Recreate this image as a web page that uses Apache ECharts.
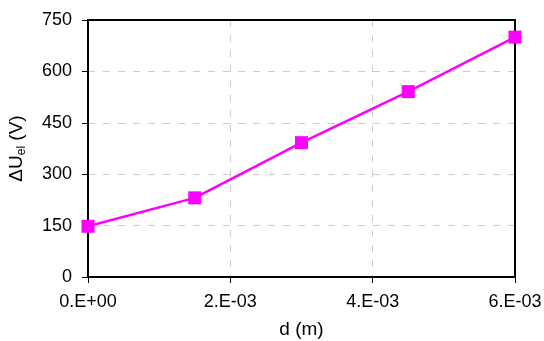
<!DOCTYPE html>
<html><head><meta charset="utf-8">
<script src="https://cdn.jsdelivr.net/npm/echarts@6/dist/echarts.min.js"></script>
<style>html,body{margin:0;padding:0;background:#fff}#c{width:544px;height:341px}</style>
</head><body><div id="c"></div>
<script>
const dValues = [0, 0.0015, 0.003, 0.0045, 0.006];
const dUValues = [148, 231, 392, 541, 700];
const xTicks = ['0.E+00', '2.E-03', '4.E-03', '6.E-03'];
const yTicks = [0, 150, 300, 450, 600, 750];

const chart = echarts.init(document.getElementById('c'));
const font = 'Liberation Sans, Arial, sans-serif';
const split = {show: true, lineStyle: {color: '#cccccc', type: [7, 8], width: 1}};
chart.setOption({
  animation: false,
  grid: {left: 88, right: 29, top: 20, bottom: 64, containLabel: false, outerBoundsMode: 'none'},
  xAxis: [{
    type: 'value', min: 0, max: 0.006, interval: 0.002,
    name: 'd (m)', nameLocation: 'middle', nameGap: 43,
    nameTextStyle: {fontFamily: font, fontSize: 19, color: '#000'},
    axisLine: {onZero: false, lineStyle: {color: '#000', width: 2}},
    axisTick: {show: true, length: 6, lineStyle: {color: '#000'}},
    axisLabel: {fontFamily: font, fontSize: 18, color: '#000', margin: 16,
      formatter: v => xTicks[Math.round(v / 0.002)]},
    splitLine: split
  }, {
    type: 'value', min: 0, max: 0.006, interval: 0.002, position: 'top',
    axisLine: {show: true, onZero: false, lineStyle: {color: '#000', width: 2}},
    axisTick: {show: false}, axisLabel: {show: false}, splitLine: {show: false}
  }],
  yAxis: [{
    type: 'value', min: 0, max: 750, interval: 150,
    name: '{a|ΔU}{s|el}{a| (V)}', nameLocation: 'middle', nameGap: 60,
    nameTextStyle: {rich: {
      a: {fontFamily: font, fontSize: 19, color: '#000'},
      s: {fontFamily: font, fontSize: 12, color: '#000', verticalAlign: 'bottom', padding: [10, 0, 0, 0]}
    }},
    axisLine: {show: true, onZero: false, lineStyle: {color: '#000', width: 2}},
    axisTick: {show: true, length: 6, lineStyle: {color: '#000'}},
    axisLabel: {fontFamily: font, fontSize: 18, color: '#000', margin: 16,
      formatter: v => String(yTicks[Math.round(v / 150)])},
    splitLine: split
  }, {
    type: 'value', min: 0, max: 750, interval: 150, position: 'right',
    axisLine: {show: true, onZero: false, lineStyle: {color: '#000', width: 2}},
    axisTick: {show: false}, axisLabel: {show: false}, splitLine: {show: false}
  }],
  series: [{
    type: 'line',
    data: dValues.map((d, i) => [d, dUValues[i]]),
    symbol: 'rect', symbolSize: 13,
    itemStyle: {color: '#ff00ff'},
    lineStyle: {color: '#ff00ff', width: 2.5}
  }]
});
</script></body></html>
